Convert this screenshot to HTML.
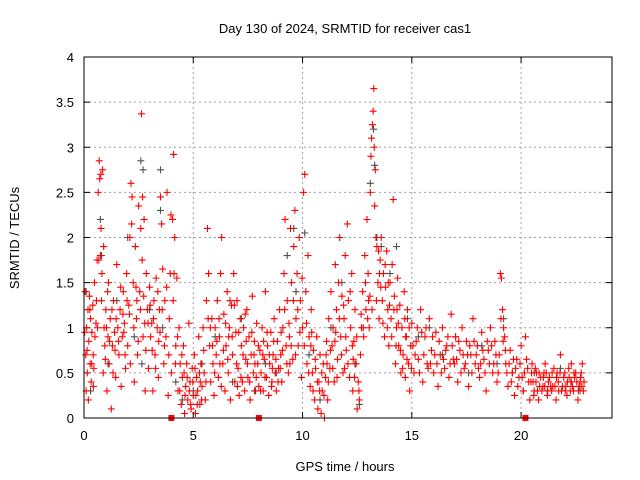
<!DOCTYPE html>
<html><head><meta charset="utf-8"><style>
html,body{margin:0;padding:0;background:#fff;}
svg{display:block;font-family:"Liberation Sans",sans-serif;}
</style></head><body>
<svg id="chart" width="640" height="480" viewBox="0 0 640 480">
<rect width="640" height="480" fill="#fff"/>
<text x="345" y="33" text-anchor="middle" font-size="13">Day 130 of 2024, SRMTID for receiver cas1</text>
<text x="345" y="471" text-anchor="middle" font-size="13">GPS time / hours</text>
<text transform="translate(19,238) rotate(-90)" text-anchor="middle" font-size="13">SRMTID / TECUs</text>
<g id="grid"></g>
<g id="ticks"></g>
<g id="gray"></g>
<g id="red"></g>
<rect x="84" y="57" width="528" height="361" fill="none" stroke="#000" stroke-width="1"/>
</svg>
<script>
const xTicks=[0,5,10,15,20];
const yTicks=[0,0.5,1,1.5,2,2.5,3,3.5,4];
const yTickLabels=["0","0.5","1","1.5","2","2.5","3","3.5","4"];
const xMin=0,xMax=24.16,yMin=0,yMax=4;
const grayPoints=[[0.1,1.4],[0.3,0.3],[0.75,2.2],[0.8,1.8],[1.1,0.6],[1.5,1.3],[2.0,2.0],[2.3,0.9],[2.6,2.85],[2.7,2.75],[2.65,0.6],[3.0,1.2],[3.5,2.75],[3.5,2.3],[3.6,1.0],[4.2,0.4],[4.5,0.2],[5.0,0.3],[5.4,0.6],[6.0,0.9],[6.8,0.4],[7.2,1.1],[7.8,0.3],[8.3,0.6],[8.8,0.5],[9.3,1.8],[9.6,2.1],[9.7,1.4],[10.1,2.05],[10.3,0.7],[10.8,0.2],[11.3,1.0],[11.8,1.5],[12.4,0.6],[12.6,0.15],[13.1,2.6],[13.25,3.2],[13.3,2.8],[13.4,2.0],[13.6,1.9],[14.0,1.6],[14.3,1.9],[14.8,1.1],[15.3,0.9],[15.8,1.0],[16.4,0.7],[17.0,0.9],[17.6,0.5],[18.2,0.8],[18.9,0.6],[19.2,1.1],[19.6,0.5],[20.1,0.3],[20.6,0.5],[21.2,0.3],[21.8,0.55],[22.3,0.4],[22.7,0.3]];
const redPoints=[
[0.05,1.4],[0.08,0.7],[0.1,0.3],[0.12,1.0],[0.15,0.5],[0.18,1.2],[0.2,0.2],[0.22,0.85],[0.25,1.35],[0.28,0.6],[0.3,1.1],[0.33,0.4],[0.36,0.95],[0.4,1.25],[0.42,0.7],[0.45,0.55],[0.48,1.5],[0.5,0.9],[0.55,1.05],[0.6,1.75],[0.65,2.5],[0.7,2.85],[0.72,2.65],[0.75,1.8],[0.78,2.1],[0.8,1.3],[0.82,1.6],[0.85,2.75],[0.88,0.5],[0.9,1.9],[0.95,0.8],[1.0,1.2],[1.05,0.3],[1.1,0.9],[1.12,1.5],[1.15,0.6],[1.2,1.1],[1.25,0.1],[1.3,0.8],[1.35,1.3],[1.4,0.95],[1.45,0.45],[1.5,1.7],[1.55,1.0],[1.6,0.7],[1.65,1.2],[1.7,0.35],[1.75,0.9],[1.8,1.4],[1.85,1.05],[1.9,0.55],[1.95,1.6],[2.0,0.8],[2.05,1.25],[2.1,2.0],[2.15,2.6],[2.2,2.45],[2.25,1.5],[2.3,0.4],[2.35,1.9],[2.4,1.1],[2.45,0.7],[2.5,2.35],[2.55,1.4],[2.6,2.1],[2.63,3.37],[2.66,1.75],[2.7,0.9],[2.75,2.2],[2.8,0.3],[2.85,1.6],[2.9,1.2],[2.95,0.55],[3.0,1.45],[3.05,0.9],[3.1,1.05],[3.15,0.3],[3.2,1.3],[3.25,0.7],[3.3,1.55],[3.35,1.0],[3.4,0.45],[3.45,1.2],[3.5,2.45],[3.55,2.15],[3.6,1.65],[3.65,0.6],[3.7,1.3],[3.75,0.9],[3.8,2.5],[3.85,0.25],[3.9,1.1],[3.95,1.6],[4.0,0.5],[4.05,2.2],[4.1,2.92],[4.15,2.0],[4.2,0.8],[4.25,1.55],[4.3,0.3],[4.35,1.0],[4.4,0.6],[4.45,0.15],[4.5,0.45],[4.55,0.8],[4.6,0.05],[4.65,0.35],[4.7,0.6],[4.75,0.2],[4.8,1.05],[4.85,0.4],[4.9,0.1],[4.95,0.55],[5.0,0.25],[5.05,0.7],[5.1,0.05],[5.15,0.45],[5.2,0.3],[5.25,0.9],[5.3,0.15],[5.35,0.6],[5.4,0.35],[5.45,1.0],[5.5,0.5],[5.55,0.2],[5.6,1.3],[5.65,2.1],[5.7,1.6],[5.75,0.8],[5.8,0.4],[5.85,1.1],[5.9,0.6],[5.95,0.25],[6.0,1.0],[6.05,0.7],[6.1,1.3],[6.15,0.45],[6.2,0.9],[6.25,1.6],[6.3,2.0],[6.35,0.6],[6.4,1.15],[6.45,0.3],[6.5,0.8],[6.55,1.4],[6.6,0.5],[6.65,1.0],[6.7,0.2],[6.75,1.25],[6.8,0.7],[6.85,1.6],[6.9,0.4],[6.95,0.95],[7.0,1.3],[7.05,0.55],[7.1,0.25],[7.15,1.1],[7.2,0.8],[7.25,0.4],[7.3,1.0],[7.35,0.3],[7.4,0.65],[7.45,1.2],[7.5,0.45],[7.55,0.9],[7.6,0.2],[7.65,0.7],[7.7,1.35],[7.75,0.5],[7.8,0.85],[7.85,0.3],[7.9,1.05],[7.95,0.6],[8.0,0.35],[8.05,0.75],[8.1,0.5],[8.15,1.0],[8.2,0.3],[8.25,0.65],[8.3,1.4],[8.35,0.45],[8.4,0.8],[8.45,0.25],[8.5,0.6],[8.55,0.95],[8.6,0.4],[8.65,0.7],[8.7,1.1],[8.75,0.5],[8.8,0.3],[8.85,0.85],[8.9,0.55],[8.95,1.2],[9.0,0.7],[9.05,0.4],[9.1,1.0],[9.15,1.6],[9.2,2.2],[9.25,0.8],[9.3,1.3],[9.35,0.5],[9.4,0.9],[9.45,2.1],[9.5,1.5],[9.55,0.65],[9.6,1.9],[9.65,2.3],[9.7,1.1],[9.75,1.6],[9.8,0.8],[9.85,2.0],[9.9,1.3],[9.95,0.45],[10.0,1.0],[10.05,2.5],[10.1,2.7],[10.15,1.4],[10.2,0.6],[10.25,1.8],[10.3,0.9],[10.35,0.35],[10.4,1.2],[10.45,0.5],[10.5,0.75],[10.55,0.2],[10.6,0.55],[10.65,0.9],[10.7,0.1],[10.75,0.4],[10.8,0.7],[10.85,0.05],[10.9,0.3],[10.95,0.6],[11.0,0.0],[11.05,0.45],[11.1,0.85],[11.15,0.2],[11.2,1.1],[11.25,0.55],[11.3,1.4],[11.35,0.8],[11.4,1.0],[11.45,0.4],[11.5,1.7],[11.55,1.2],[11.6,0.65],[11.65,1.5],[11.7,2.0],[11.75,0.9],[11.8,1.35],[11.85,0.5],[11.9,1.1],[11.95,1.8],[12.0,0.75],[12.05,2.15],[12.1,1.3],[12.15,0.45],[12.2,1.0],[12.25,1.6],[12.3,0.3],[12.35,0.85],[12.4,1.2],[12.45,0.6],[12.5,0.1],[12.55,0.4],[12.6,0.2],[12.65,0.7],[12.7,1.0],[12.75,1.4],[12.8,0.9],[12.85,1.8],[12.9,1.2],[12.95,2.2],[13.0,1.6],[13.05,1.0],[13.1,2.5],[13.13,2.9],[13.16,3.1],[13.2,3.25],[13.23,3.4],[13.26,3.65],[13.28,3.0],[13.3,2.35],[13.33,2.75],[13.36,2.0],[13.4,1.9],[13.45,1.5],[13.5,1.1],[13.55,1.75],[13.6,2.0],[13.65,1.3],[13.7,1.6],[13.75,0.9],[13.8,1.45],[13.85,1.85],[13.9,1.2],[13.95,0.8],[14.0,1.5],[14.05,1.1],[14.1,1.7],[14.15,2.42],[14.2,1.35],[14.25,0.6],[14.3,1.0],[14.35,1.55],[14.4,0.8],[14.45,1.25],[14.5,0.5],[14.55,1.0],[14.6,0.7],[14.65,1.4],[14.7,0.45],[14.75,0.9],[14.8,1.2],[14.85,0.6],[14.9,0.3],[14.95,0.8],[15.0,1.05],[15.1,0.5],[15.2,0.85],[15.3,0.65],[15.4,1.2],[15.5,0.4],[15.6,0.9],[15.7,0.6],[15.8,1.1],[15.9,0.75],[16.0,0.5],[16.1,0.95],[16.2,0.35],[16.3,0.7],[16.4,1.0],[16.5,0.55],[16.6,0.8],[16.7,0.45],[16.8,1.15],[16.9,0.65],[17.0,0.9],[17.1,0.4],[17.2,0.75],[17.3,1.0],[17.4,0.55],[17.5,0.85],[17.6,0.35],[17.7,0.7],[17.8,1.1],[17.9,0.6],[18.0,0.8],[18.1,0.45],[18.2,0.95],[18.3,0.65],[18.4,0.3],[18.5,0.75],[18.6,1.0],[18.7,0.5],[18.8,0.85],[18.9,0.4],[19.0,0.7],[19.05,1.6],[19.1,1.55],[19.15,1.2],[19.2,1.0],[19.25,0.9],[19.3,0.6],[19.4,0.35],[19.5,0.75],[19.6,0.5],[19.7,0.25],[19.8,0.65],[19.9,0.45],[20.0,0.8],[20.1,0.3],[20.2,0.9],[20.3,0.55],[20.4,0.2],[20.5,0.6],[20.55,0.4],[20.6,0.3],[20.7,0.5],[20.8,0.2],[20.9,0.45],[21.0,0.35],[21.1,0.6],[21.2,0.25],[21.3,0.45],[21.4,0.3],[21.5,0.55],[21.6,0.2],[21.7,0.4],[21.8,0.7],[21.9,0.35],[22.0,0.5],[22.1,0.25],[22.2,0.45],[22.3,0.6],[22.4,0.3],[22.5,0.5],[22.6,0.2],[22.7,0.4],[22.8,0.6],[22.85,0.3],
[0.35,0.6],[0.62,1.0],[1.08,1.4],[1.42,0.75],[1.78,1.15],[2.12,0.6],[2.42,1.3],[2.78,1.05],[3.12,0.75],[3.42,0.85],[4.12,1.6],[4.58,0.5],[4.82,0.3],[5.12,0.25],[5.32,0.4],[5.78,1.0],[6.22,0.6],[6.62,0.9],[7.02,0.35],[7.42,0.85],[7.82,0.6],[8.22,0.85],[8.62,0.55],[9.02,0.95],[9.42,0.6],[10.42,0.95],[10.78,0.3],[11.12,0.6],[11.52,0.95],[11.92,0.55],[12.32,0.65],[13.02,1.3],[13.52,1.6],[13.92,1.5],[14.32,1.2],[14.72,0.9],[15.15,0.7],[15.45,0.95],[15.75,0.55],[16.05,0.7],[16.35,0.5],[16.65,0.9],[16.95,0.6],[17.25,0.5],[17.55,0.7],[17.85,0.85],[18.15,0.6],[18.45,0.85],[18.75,0.6],[19.35,0.5],[19.75,0.55],[20.15,0.5],[20.45,0.4],[20.65,0.55],[20.85,0.35],[21.05,0.5],[21.25,0.4],[21.45,0.35],[21.65,0.5],[21.85,0.3],[22.05,0.35],[22.25,0.3],[22.45,0.45],[22.65,0.35],[22.75,0.5],
[0.03,0.95],[0.14,0.75],[0.27,1.2],[0.43,0.35],[0.57,1.3],[0.68,1.75],[0.77,2.7],[0.92,1.0],[0.98,0.65],[1.03,1.0],[1.17,0.85],[1.28,1.2],[1.33,0.5],[1.47,1.1],[1.58,0.85],[1.68,1.45],[1.82,0.95],[1.88,0.7],[1.97,1.3],[2.08,1.15],[2.18,2.15],[2.28,1.0],[2.38,1.45],[2.48,0.85],[2.58,1.2],[2.68,2.45],[2.73,1.35],[2.83,0.75],[2.93,1.05],[3.03,1.25],[3.18,1.1],[3.28,0.55],[3.38,1.4],[3.48,0.95],[3.58,1.2],[3.68,0.8],[3.78,1.45],[3.88,0.7],[3.98,2.25],[4.08,1.3],[4.18,0.6],[4.28,0.9],[4.38,0.3],[4.48,0.7],[4.62,0.25],[4.72,0.45],[4.88,0.15],[4.98,0.4],[5.08,0.55],[5.18,0.15],[5.28,0.5],[5.38,0.2],[5.48,0.75],[5.58,0.4],[5.68,1.1],[5.88,0.8],[5.98,0.5],[6.08,0.85],[6.18,1.1],[6.28,0.35],[6.38,0.75],[6.48,1.05],[6.58,0.65],[6.68,1.3],[6.78,0.9],[6.88,1.25],[6.98,0.6],[7.08,0.95],[7.18,0.45],[7.28,0.7],[7.38,1.15],[7.48,0.6],[7.58,0.4],[7.68,0.95],[7.78,0.7],[7.88,0.45],[7.98,0.8],[8.08,0.3],[8.18,0.7],[8.28,0.45],[8.38,0.95],[8.48,0.7],[8.58,0.35],[8.68,0.85],[8.78,0.65],[8.88,0.4],[8.98,0.55],[9.08,0.75],[9.18,1.2],[9.28,0.6],[9.38,1.05],[9.48,0.8],[9.58,1.3],[9.68,0.7],[9.78,1.2],[9.88,0.95],[9.98,1.55],[10.08,0.8],[10.18,1.05],[10.28,0.5],[10.38,0.8],[10.48,0.3],[10.58,0.65],[10.68,0.4],[10.88,0.5],[10.98,0.25],[11.08,0.7],[11.18,0.4],[11.28,0.75],[11.38,0.55],[11.48,0.85],[11.58,0.45],[11.68,1.1],[11.78,0.7],[11.88,1.25],[11.98,0.9],[12.08,0.6],[12.18,1.4],[12.28,0.8],[12.38,0.45],[12.48,0.9],[12.58,0.3],[12.68,1.15],[12.78,1.0],[12.88,1.5],[12.98,1.1],[13.08,1.35],[13.18,1.2],[13.38,1.3],[13.48,1.85],[13.58,1.45],[13.68,1.05],[13.78,1.7],[13.88,1.0],[13.98,1.25],[14.08,0.9],[14.18,1.2],[14.28,0.8],[14.38,1.05],[14.48,0.75],[14.58,0.55],[14.68,1.1],[14.78,0.65],[14.88,1.0],[14.98,0.55],[15.05,0.8],[15.25,1.0],[15.35,0.5],[15.55,0.7],[15.65,1.0],[15.85,0.6],[15.95,0.9],[16.15,0.6],[16.25,0.85],[16.45,0.65],[16.55,0.75],[16.75,0.6],[16.85,0.8],[17.05,0.65],[17.15,0.85],[17.35,0.7],[17.45,0.6],[17.65,0.8],[17.75,0.5],[17.95,0.7],[18.05,0.55],[18.25,0.75],[18.35,0.5],[18.55,0.6],[18.65,0.8],[18.85,0.7],[18.95,0.5],[19.08,1.1],[19.18,0.85],[19.28,0.75],[19.45,0.6],[19.55,0.4],[19.65,0.65],[19.85,0.35],[19.95,0.6],[20.05,0.45],[20.25,0.65],[20.35,0.4],[20.48,0.5],[20.58,0.25],[20.68,0.4],[20.75,0.3],[20.82,0.5],[20.95,0.3],[21.02,0.45],[21.08,0.35],[21.15,0.5],[21.22,0.3],[21.35,0.35],[21.42,0.5],[21.55,0.35],[21.62,0.45],[21.72,0.3],[21.78,0.5],[21.95,0.45],[22.02,0.3],[22.12,0.4],[22.18,0.55],[22.28,0.4],[22.35,0.35],[22.42,0.5],[22.55,0.4],[22.62,0.3],[22.72,0.45],[22.78,0.35],[22.88,0.4]
];
const zeroSquares=[4.0,8.0,20.2];
const L=84,R=612,T=57,B=418;
const xs=v=>L+(v-xMin)/(xMax-xMin)*(R-L);
const ys=v=>B-(v-yMin)/(yMax-yMin)*(B-T);
const NS="http://www.w3.org/2000/svg";
function mk(tag,attrs,parent){const e=document.createElementNS(NS,tag);for(const k in attrs)e.setAttribute(k,attrs[k]);parent.appendChild(e);return e;}
const grid=document.getElementById('grid'),ticks=document.getElementById('ticks');
yTicks.forEach((v,i)=>{const y=ys(v);
 if(v>yMin&&v<yMax){const g=mk('line',{x1:L,x2:R,y1:y,y2:y,stroke:'#a0a0a0','stroke-dasharray':'2,3'},grid);
 
 }
 const t=mk('path',{d:`M${L} ${y}h6M${R} ${y}h-6`,stroke:'#000'},ticks);
 
 
 const tx=mk('text',{x:L-10,y:y+5,'text-anchor':'end','font-size':13},ticks);tx.textContent=yTickLabels[i];
 
 
});
xTicks.forEach(v=>{const x=xs(v);
 if(v>xMin){const g=mk('line',{x1:x,x2:x,y1:T,y2:B,stroke:'#a0a0a0','stroke-dasharray':'2,3'},grid);
 
 }
 const t=mk('path',{d:`M${x} ${B}v-6M${x} ${T}v6`,stroke:'#000'},ticks);
 
 
 const tx=mk('text',{x:x,y:B+22,'text-anchor':'middle','font-size':13},ticks);tx.textContent=String(v);
 
 
});
function plus(p,color,parent,name){const x=xs(p[0]),y=ys(p[1]);
 const e=mk('path',{d:`M${x-3.5} ${y}h7M${x} ${y-3.5}v7`,stroke:color,'stroke-width':1.1,fill:'none'},parent);
 
 }
const gg=document.getElementById('gray'),rg=document.getElementById('red');
grayPoints.forEach(p=>plus(p,'#505050',gg,'gray-point'));
redPoints.forEach(p=>plus(p,'#ff0000',rg,'red-point'));
zeroSquares.forEach(v=>{const s=mk('rect',{x:xs(v)-3,y:B-3,width:6,height:6,fill:'#ff0000'},rg);
 
 });
</script>
</body></html>
